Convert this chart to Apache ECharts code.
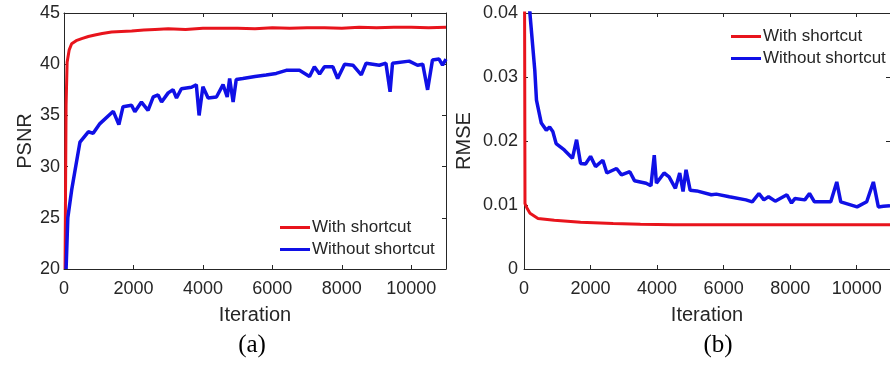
<!DOCTYPE html>
<html>
<head>
<meta charset="utf-8">
<script src="https://cdn.jsdelivr.net/npm/echarts@6/dist/echarts.min.js"></script>
<style>html,body{margin:0;padding:0;background:#fff}#c{width:890px;height:369px}</style>
</head>
<body>
<div id="c"></div>
<script>
// ---- data ----
const xTicks = [0, 2000, 4000, 6000, 8000, 10000];
const psnrTicks = [20, 25, 30, 35, 40, 45];
const rmseTicks = [0, 0.01, 0.02, 0.03, 0.04];

const psnrWithIter = [30, 60, 90, 150, 220, 350, 510, 700, 890, 1100, 1370, 1650, 1950, 2300, 2620, 3000, 3500, 4000, 4500, 5000, 5500, 6000, 6500, 7000, 7500, 8000, 8500, 9000, 9500, 10000, 10500, 11000];
const psnrWith = [20, 36, 40.2, 41.4, 42.0, 42.3, 42.5, 42.7, 42.85, 43.0, 43.15, 43.2, 43.25, 43.35, 43.4, 43.45, 43.4, 43.5, 43.5, 43.5, 43.45, 43.55, 43.5, 43.55, 43.55, 43.5, 43.6, 43.55, 43.6, 43.6, 43.55, 43.6];

const psnrWithoutIter = [60, 110, 220, 316, 460, 700, 840, 1035, 1420, 1580, 1700, 1945, 2040, 2230, 2420, 2570, 2710, 2810, 3000, 3140, 3240, 3380, 3670, 3810, 3890, 4000, 4150, 4390, 4580, 4700, 4770, 4870, 4960, 5150, 5500, 5820, 6110, 6400, 6780, 7070, 7210, 7360, 7500, 7740, 7880, 8080, 8320, 8560, 8700, 9080, 9270, 9390, 9460, 9940, 10180, 10330, 10470, 10610, 10800, 10900, 11000];
const psnrWithout = [20, 25, 27.7, 29.6, 32.4, 33.4, 33.25, 34.2, 35.4, 34.1, 35.85, 36.0, 35.35, 36.3, 35.5, 36.8, 37.0, 36.3, 37.2, 37.5, 36.7, 37.6, 37.75, 38.0, 35.0, 37.8, 36.7, 36.8, 38.0, 36.8, 38.6, 36.3, 38.5, 38.6, 38.8, 38.95, 39.1, 39.4, 39.4, 38.8, 39.75, 39.05, 39.75, 39.75, 38.6, 40.0, 39.9, 38.95, 40.1, 39.9, 40.1, 37.3, 40.1, 40.3, 39.9, 40.0, 37.5, 40.4, 40.5, 39.9, 40.5];

const rmseWithIter = [10, 30, 100, 180, 420, 910, 1700, 2680, 3500, 4500, 5500, 6500, 7500, 8500, 9500, 10500, 11000];
const rmseWith = [0.06, 0.0102, 0.0094, 0.0087, 0.0079, 0.0076, 0.0073, 0.0071, 0.0070, 0.0069, 0.0069, 0.0069, 0.0069, 0.0069, 0.0069, 0.0069, 0.0069];

const rmseWithoutIter = [100, 177, 325, 375, 520, 670, 770, 865, 965, 1210, 1455, 1580, 1700, 1850, 2000, 2150, 2370, 2490, 2780, 2930, 3180, 3320, 3670, 3815, 3915, 3980, 4210, 4360, 4550, 4680, 4780, 4870, 4995, 5190, 5630, 5780, 6170, 6670, 6860, 7060, 7210, 7350, 7550, 7900, 8040, 8140, 8440, 8580, 8730, 9220, 9400, 9520, 10010, 10300, 10500, 10650, 10800, 11000];
const rmseWithout = [0.046, 0.04, 0.031, 0.0264, 0.0228, 0.0217, 0.0222, 0.0215, 0.0196, 0.0186, 0.0173, 0.0202, 0.0165, 0.0164, 0.0176, 0.016, 0.017, 0.015, 0.0157, 0.0147, 0.0152, 0.0138, 0.0134, 0.0130, 0.0178, 0.0134, 0.015, 0.0144, 0.0126, 0.015, 0.0121, 0.0155, 0.0123, 0.0122, 0.0116, 0.0117, 0.0113, 0.0108, 0.0105, 0.0118, 0.0108, 0.0113, 0.0106, 0.0116, 0.0103, 0.011, 0.0108, 0.0118, 0.0105, 0.0105, 0.0136, 0.0105, 0.0097, 0.0105, 0.0136, 0.0097, 0.0098, 0.0099];

const seriesNames = ['With shortcut', 'Without shortcut'];
const panelLabels = ['(a)', '(b)'];
const yNames = ['PSNR', 'RMSE'];
const xName = 'Iteration';

// ---- chart ----
const RED = '#e8141c', BLUE = '#1010e6', AX = '#262626';
const FONT = 'Liberation Sans';
const pair = (xs, ys) => xs.map((x, i) => [x, ys[i]]);
const setFrom = arr => (v) => arr.some(t => Math.abs(t - v) < 1e-9) ? String(+v.toFixed(4)) : '';

function xAx(grid, pos) {
  const main = pos === 'bottom';
  return {
    show: true, type: 'value', gridIndex: grid, position: pos, min: 0, max: 11000, interval: 2000,
    name: main ? xName : '', nameLocation: 'middle', nameGap: 36,
    nameTextStyle: { color: AX, fontSize: 20, fontFamily: FONT },
    axisLine: { show: true, onZero: false, lineStyle: { color: AX, width: 1 } },
    axisTick: { show: true, inside: true, length: 4, lineStyle: { color: AX } },
    axisLabel: { show: main, color: AX, fontSize: 18, fontFamily: FONT, margin: 11, formatter: setFrom(xTicks), showMaxLabel: false },
    splitLine: { show: false }
  };
}
function yAx(grid, pos, min, max, interval, ticks, name, gap, lm) {
  const main = pos === 'left';
  return {
    show: true, type: 'value', gridIndex: grid, position: pos, min, max, interval,
    name: main ? name : '', nameLocation: 'middle', nameGap: gap,
    nameTextStyle: { color: AX, fontSize: 20, fontFamily: FONT },
    axisLine: { show: true, onZero: false, lineStyle: { color: AX, width: 1 } },
    axisTick: { show: true, inside: true, length: 4, lineStyle: { color: AX } },
    axisLabel: { show: main, color: AX, fontSize: 18, fontFamily: FONT, margin: lm, formatter: setFrom(ticks) },
    splitLine: { show: false }
  };
}
function line(name, data, xi, yi, color, w) {
  return { name, type: 'line', xAxisIndex: xi, yAxisIndex: yi, data, showSymbol: false, symbol: 'none',
    lineStyle: { color, width: w }, itemStyle: { color }, clip: true, animation: false };
}
// empty helper series so the top / right frame axes are bound to a series
function frame(xi, yi) {
  return { type: 'line', xAxisIndex: xi, yAxisIndex: yi, data: [], silent: true, showSymbol: false };
}
const legendBase = {
  orient: 'vertical', icon: 'rect', itemWidth: 30, itemHeight: 3, itemGap: 5,
  textStyle: { color: AX, fontSize: 17, fontFamily: FONT, padding: [0, 0, 0, -3] },
  selectedMode: false, data: seriesNames
};
const titleStyle = { fontFamily: 'Liberation Serif', fontSize: 25, fontWeight: 'normal', color: '#000' };

const chart = echarts.init(document.getElementById('c'), null, { renderer: 'canvas' });
chart.setOption({
  animation: false,
  backgroundColor: '#fff',
  grid: [
    { left: 64, top: 13, width: 382, height: 256 },
    { left: 524, top: 13, width: 373, height: 256 }
  ],
  xAxis: [xAx(0, 'bottom'), xAx(0, 'top'), xAx(1, 'bottom'), xAx(1, 'top')],
  yAxis: [
    yAx(0, 'left', 20, 45, 5, psnrTicks, yNames[0], 29, 4),
    yAx(0, 'right', 20, 45, 5, psnrTicks, '', 0, 4),
    yAx(1, 'left', 0, 0.04, 0.01, rmseTicks, yNames[1], 50, 6),
    yAx(1, 'right', 0, 0.04, 0.01, rmseTicks, '', 0, 6)
  ],
  legend: [
    Object.assign({}, legendBase, { left: 275, top: 214 }),
    Object.assign({}, legendBase, { left: 726, top: 23 })
  ],
  title: [
    { text: panelLabels[0], left: 247, top: 328, textAlign: 'center', textStyle: titleStyle },
    { text: panelLabels[1], left: 713, top: 328, textAlign: 'center', textStyle: titleStyle }
  ],
  series: [
    line(seriesNames[0], pair(psnrWithIter, psnrWith), 0, 0, RED, 3),
    line(seriesNames[1], pair(psnrWithoutIter, psnrWithout), 0, 0, BLUE, 3.5),
    line(seriesNames[0], pair(rmseWithIter, rmseWith), 2, 2, RED, 3),
    line(seriesNames[1], pair(rmseWithoutIter, rmseWithout), 2, 2, BLUE, 3.5),
    frame(1, 1),
    frame(3, 3)
  ]
});
</script>
</body>
</html>
